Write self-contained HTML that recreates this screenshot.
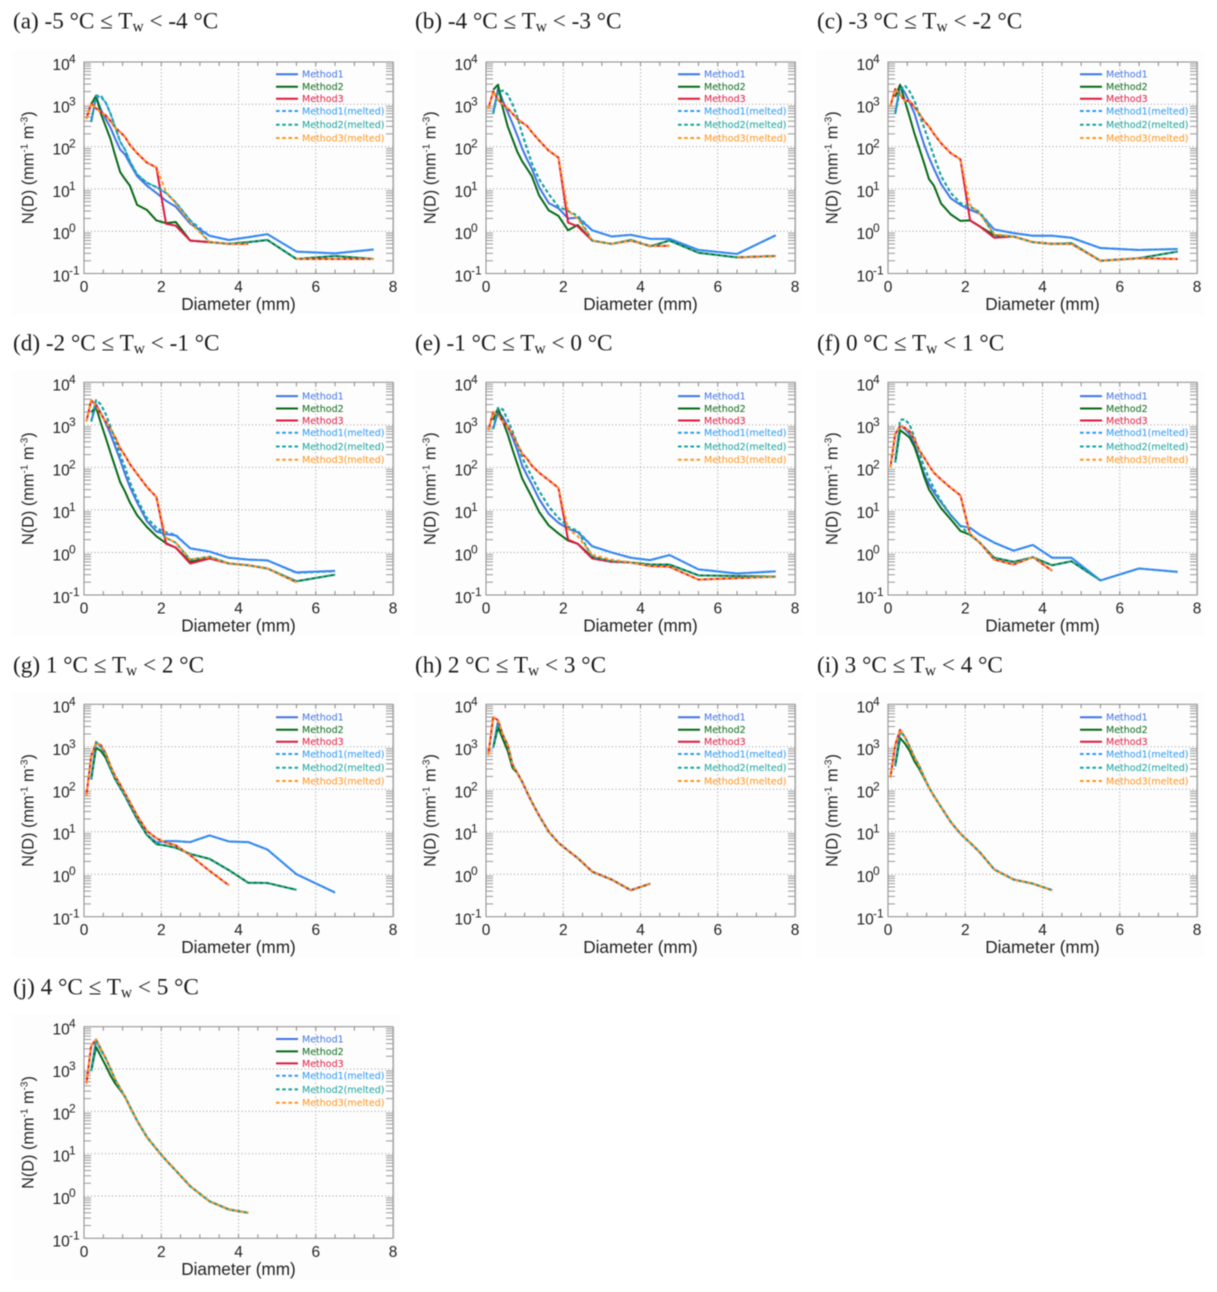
<!DOCTYPE html>
<html lang="en">
<head>
<meta charset="utf-8">
<title>Drop size distributions by wet-bulb temperature</title>
<style>
html,body{margin:0;padding:0;background:#fff;}
#figure{display:block;width:1217px;height:1292px;filter:blur(0.42px);}
.panel-title{font-family:"Liberation Serif",serif;font-size:23.2px;fill:#1a1a1a;}
.tick-label{font-family:"Liberation Sans",sans-serif;font-size:15.5px;fill:#222;}
.tick-exp{font-family:"Liberation Sans",sans-serif;font-size:12px;fill:#222;}
.axis-title{font-family:"Liberation Sans",sans-serif;font-size:17.2px;fill:#222;}
.y-title{font-family:"Liberation Sans",sans-serif;font-size:16.3px;fill:#222;}
.axis-exp{font-family:"Liberation Sans",sans-serif;font-size:10px;fill:#222;}
.legend-text{font-family:"DejaVu Sans",sans-serif;font-size:9.5px;}
</style>
</head>
<body>
<svg id="figure" xmlns="http://www.w3.org/2000/svg" width="1217" height="1292" viewBox="0 0 1217 1292">
<rect x="0" y="0" width="1217" height="1292" fill="#ffffff"/>
<text class="panel-title" x="13" y="28.5">(a) -5 °C ≤ T<tspan font-size="15.5" dy="3">w</tspan><tspan dy="-3"> &lt; -4 °C</tspan></text>
<text class="panel-title" x="415" y="28.5">(b) -4 °C ≤ T<tspan font-size="15.5" dy="3">w</tspan><tspan dy="-3"> &lt; -3 °C</tspan></text>
<text class="panel-title" x="817" y="28.5">(c) -3 °C ≤ T<tspan font-size="15.5" dy="3">w</tspan><tspan dy="-3"> &lt; -2 °C</tspan></text>
<text class="panel-title" x="13" y="350.5">(d) -2 °C ≤ T<tspan font-size="15.5" dy="3">w</tspan><tspan dy="-3"> &lt; -1 °C</tspan></text>
<text class="panel-title" x="415" y="350.5">(e) -1 °C ≤ T<tspan font-size="15.5" dy="3">w</tspan><tspan dy="-3"> &lt; 0 °C</tspan></text>
<text class="panel-title" x="817" y="350.5">(f) 0 °C ≤ T<tspan font-size="15.5" dy="3">w</tspan><tspan dy="-3"> &lt; 1 °C</tspan></text>
<text class="panel-title" x="13" y="672.5">(g) 1 °C ≤ T<tspan font-size="15.5" dy="3">w</tspan><tspan dy="-3"> &lt; 2 °C</tspan></text>
<text class="panel-title" x="415" y="672.5">(h) 2 °C ≤ T<tspan font-size="15.5" dy="3">w</tspan><tspan dy="-3"> &lt; 3 °C</tspan></text>
<text class="panel-title" x="817" y="672.5">(i) 3 °C ≤ T<tspan font-size="15.5" dy="3">w</tspan><tspan dy="-3"> &lt; 4 °C</tspan></text>
<text class="panel-title" x="13" y="994.5">(j) 4 °C ≤ T<tspan font-size="15.5" dy="3">w</tspan><tspan dy="-3"> &lt; 5 °C</tspan></text>
</svg>
<script>
const diameters = [0.062,0.187,0.312,0.437,0.562,0.687,0.812,0.937,1.062,1.187,1.375,1.625,1.875,2.125,2.375,2.75,3.25,3.75,4.25,4.75,5.5,6.5,7.5];
const xTickLabels = [0,2,4,6,8];
const yTickExponents = [-1,0,1,2,3,4];
const seriesNames = ["Method1","Method2","Method3","Method1(melted)","Method2(melted)","Method3(melted)"];

const aMethod1 = [null,380,1500,750,450,280,150,85,65,40,20,12,8,5.2,3.8,1.5,0.78,0.62,0.72,0.85,0.33,0.3,0.37];
const aMethod2 = [null,1000,1600,600,300,150,60,25,17,12,4.2,3.2,1.8,1.55,1.65,0.6,0.55,0.5,0.55,0.62,0.22,0.26,0.22];
const aMethod3 = [450,1050,800,650,550,400,280,220,170,110,70,42,32,1.5,1.35,0.6,0.55,0.5,0.5,null,0.22,0.22,0.22];
const aMethod1m = [null,400,1500,1500,1100,600,280,130,85,45,22,14,11,8,4.8,1.8,0.78,0.62,0.72,0.85,0.33,0.3,0.37];
const aMethod2m = [null,400,1600,1600,1100,600,280,130,85,45,22,14,11,8,4.8,1.8,0.55,0.5,0.55,0.62,0.22,0.26,0.22];
const aMethod3m = [450,1050,800,650,550,400,280,220,170,110,70,42,32,8.5,4.5,1.6,0.55,0.5,0.5,null,0.22,0.22,0.22];

const bMethod1 = [null,600,2400,1200,650,350,180,90,50,30,11,4.6,3.5,2,2.1,1.05,0.75,0.82,0.66,0.66,0.36,0.29,0.8];
const bMethod2 = [null,2200,2900,800,300,150,75,45,30,20,7,3.1,2.3,1.05,1.4,0.6,0.5,0.62,0.44,0.6,0.31,0.24,0.26];
const bMethod3 = [800,2000,1300,1000,800,600,450,370,310,220,140,80,55,1.6,1.3,0.6,0.5,0.6,0.45,0.45,null,0.24,0.26];
const bMethod1m = [null,600,2000,2100,1700,1000,500,200,90,40,17,7.5,3.8,3,2.3,1.05,0.75,0.82,0.66,0.66,0.36,0.29,0.8];
const bMethod2m = [null,600,2000,2100,1700,1000,500,200,90,40,17,7.5,3.8,3,2.3,0.6,0.5,0.62,0.44,0.6,0.31,0.24,0.26];
const bMethod3m = [800,2000,1300,1000,800,600,450,370,310,220,140,80,55,3,2,0.6,0.5,0.6,0.45,0.45,null,0.24,0.26];

const cMethod1 = [null,600,2800,1900,1100,600,250,110,55,30,13,6,4.2,3.2,2.6,1.1,0.9,0.78,0.78,0.7,0.4,0.36,0.38];
const cMethod2 = [null,1500,2900,1200,500,200,90,40,17,12,4.5,2.5,1.75,1.8,1.3,0.8,0.75,0.55,0.5,0.52,0.2,0.23,0.33];
const cMethod3 = [900,2300,1700,1200,1200,850,600,400,300,200,120,70,50,1.8,1.3,0.7,0.75,0.55,0.5,0.5,0.2,0.23,0.22];
const cMethod1m = [null,600,2200,2800,2000,1200,550,280,130,60,20,8,4.6,3.8,2.8,1.1,0.9,0.78,0.78,0.7,0.4,0.36,0.38];
const cMethod2m = [null,600,2200,2800,2000,1200,550,280,130,60,20,8,4.6,3.8,2.8,0.8,0.75,0.55,0.5,0.52,0.2,0.23,0.33];
const cMethod3m = [900,2300,1700,1200,1200,850,600,400,300,200,120,70,50,4.2,2.6,0.85,0.75,0.55,0.5,0.5,0.2,0.23,0.22];

const dMethod1 = [null,1200,3000,1900,1100,600,300,150,70,35,15,5.5,3.1,2.7,2.5,1.25,1.05,0.75,0.68,0.65,0.34,0.37,null];
const dMethod2 = [null,2000,2600,1100,500,220,100,45,27,15,7.5,4,2.4,1.65,1.3,0.6,0.78,0.55,0.5,0.42,0.21,0.3,null];
const dMethod3 = [1200,3800,2800,1800,1200,800,500,280,190,120,70,35,20,1.6,1.3,0.55,0.72,0.55,0.5,0.42,0.2,null,null];
const dMethod1m = [null,1200,3800,3000,1800,900,420,200,100,45,18,6.5,3.8,3,2.6,1.25,1.05,0.75,0.68,0.65,0.33,0.36,null];
const dMethod2m = [null,1200,3800,3000,1800,900,420,200,100,45,18,6.5,3.8,2.2,1.7,0.68,0.8,0.55,0.5,0.42,0.21,0.3,null];
const dMethod3m = [1200,3800,2800,1800,1200,800,500,280,190,120,70,35,20,2.2,1.7,0.68,0.78,0.55,0.5,0.42,0.2,null,null];

const eMethod1 = [null,800,2000,1500,900,500,250,110,65,40,18,8,5,3.6,3,1.4,1,0.75,0.66,0.87,0.4,0.32,0.36];
const eMethod2 = [null,1300,2500,1200,600,260,120,55,33,20,9,4.3,2.8,1.9,1.6,0.78,0.62,0.58,0.52,0.52,0.29,0.28,0.27];
const eMethod3 = [750,2000,1700,1200,900,600,350,210,160,110,75,50,33,2,1.6,0.72,0.6,0.58,0.48,0.46,0.23,0.25,0.27];
const eMethod1m = [null,800,2500,2300,1300,700,350,170,100,60,28,12,6.5,4,3.2,1.4,1,0.75,0.66,0.87,0.4,0.32,0.36];
const eMethod2m = [null,800,2500,2300,1300,700,350,170,100,60,28,12,6.5,4,3.2,0.78,0.62,0.58,0.52,0.52,0.29,0.28,0.27];
const eMethod3m = [750,2000,1700,1200,900,600,350,210,160,110,75,50,33,3.6,2.4,0.88,0.68,0.58,0.48,0.46,0.23,0.25,0.27];

const fMethod1 = [null,130,950,800,600,350,150,70,40,26,15,7.5,4.2,3.8,2.6,1.7,1.1,1.5,0.75,0.75,0.22,0.42,0.35];
const fMethod2 = [null,130,750,620,500,300,140,60,30,20,11,6,3.2,2.6,1.7,0.75,0.6,0.77,0.5,0.62,0.22,null,null];
const fMethod3 = [100,600,950,850,700,450,250,170,110,75,52,33,22,2.7,1.7,0.68,0.52,0.78,0.37,null,null,null,null];
const fMethod1m = [null,130,1300,1350,1000,500,220,100,55,32,16,7.5,4.2,3.8,2.6,1.7,1.1,1.5,0.75,0.75,0.22,0.42,0.35];
const fMethod2m = [null,130,1300,1350,1000,500,220,100,55,32,16,7.5,4.2,2.6,1.7,0.75,0.6,0.77,0.5,0.62,0.22,null,null];
const fMethod3m = [100,600,950,850,700,450,250,170,110,75,52,33,22,2.7,1.7,0.68,0.52,0.78,0.37,null,null,null,null];

const gMethod1 = [null,170,1300,1000,650,320,170,110,70,42,20,8.5,5.6,6,6,5.7,8.2,5.9,5.7,3.8,1,0.37,null];
const gMethod2 = [null,170,950,800,550,300,170,110,70,42,20,8.5,5.1,4.7,4.2,3,2.3,1.25,0.63,0.62,0.43,null,null];
const gMethod3 = [70,600,1250,1100,700,350,200,130,80,50,24,10.5,7,5.5,4.8,2.8,1.2,0.55,null,null,null,null,null];
const gMethod1m = [null,170,1300,1000,650,320,170,110,70,42,20,8.5,5.6,6,6,5.7,8.2,5.9,5.7,3.8,1,0.37,null];
const gMethod2m = [null,170,1300,1000,650,320,170,110,70,42,20,8.5,5.1,4.7,4.2,3,2.3,1.25,0.63,0.62,0.43,null,null];
const gMethod3m = [70,600,1250,1100,700,350,200,130,80,50,24,10.5,7,5.5,4.8,2.8,1.2,0.55,null,null,null,null,null];

const hMethod1 = [null,950,4000,1900,1100,380,240,150,85,50,24,10,5.5,3.6,2.4,1.15,0.75,0.42,0.6,null,null,null,null];
const hMethod2 = [null,950,2900,1500,800,320,240,150,85,50,24,10,5.5,3.6,2.4,1.15,0.75,0.42,0.6,null,null,null,null];
const hMethod3 = [650,5000,4200,1900,1100,380,240,150,85,50,24,10,5.5,3.6,2.4,1.15,0.75,0.42,0.6,null,null,null,null];
const hMethod1m = [null,950,4000,1900,1100,380,240,150,85,50,24,10,5.5,3.6,2.4,1.15,0.75,0.42,0.6,null,null,null,null];
const hMethod2m = [null,950,4000,1900,1100,380,240,150,85,50,24,10,5.5,3.6,2.4,1.15,0.75,0.42,0.6,null,null,null,null];
const hMethod3m = [650,5000,4200,1900,1100,380,240,150,85,50,24,10,5.5,3.6,2.4,1.15,0.75,0.42,0.6,null,null,null,null];

const iMethod1 = [null,350,2300,1700,1000,550,350,190,110,70,38,17,9,5.5,3.3,1.3,0.75,0.6,0.42,null,null,null,null];
const iMethod2 = [null,350,1600,1200,800,450,300,180,110,70,38,17,9,5.5,3.3,1.3,0.75,0.6,0.42,null,null,null,null];
const iMethod3 = [190,1100,2500,1700,1000,550,350,190,110,70,38,17,9,5.5,3.3,1.3,0.75,0.6,0.42,null,null,null,null];
const iMethod1m = [null,350,2300,1700,1000,550,350,190,110,70,38,17,9,5.5,3.3,1.3,0.75,0.6,0.42,null,null,null,null];
const iMethod2m = [null,350,2300,1700,1000,550,350,190,110,70,38,17,9,5.5,3.3,1.3,0.75,0.6,0.42,null,null,null,null];
const iMethod3m = [190,1100,2500,1700,1000,550,350,190,110,70,38,17,9,5.5,3.3,1.3,0.75,0.6,0.42,null,null,null,null];

const jMethod1 = [null,900,4800,2800,1800,1000,550,350,220,130,60,25,13,7,4,1.7,0.75,0.48,0.4,null,null,null,null];
const jMethod2 = [null,900,3300,2000,1200,700,450,320,220,130,60,25,13,7,4,1.7,0.75,0.48,0.4,null,null,null,null];
const jMethod3 = [450,3500,5000,3000,1800,1000,550,350,220,130,60,25,13,7,4,1.7,0.75,0.48,0.4,null,null,null,null];
const jMethod1m = [null,900,4800,2800,1800,1000,550,350,220,130,60,25,13,7,4,1.7,0.75,0.48,0.4,null,null,null,null];
const jMethod2m = [null,900,4800,2800,1800,1000,550,350,220,130,60,25,13,7,4,1.7,0.75,0.48,0.4,null,null,null,null];
const jMethod3m = [450,3500,5000,3000,1800,1000,550,350,220,130,60,25,13,7,4,1.7,0.75,0.48,0.4,null,null,null,null];

const panelData = {
  a:[aMethod1,aMethod2,aMethod3,aMethod1m,aMethod2m,aMethod3m],
  b:[bMethod1,bMethod2,bMethod3,bMethod1m,bMethod2m,bMethod3m],
  c:[cMethod1,cMethod2,cMethod3,cMethod1m,cMethod2m,cMethod3m],
  d:[dMethod1,dMethod2,dMethod3,dMethod1m,dMethod2m,dMethod3m],
  e:[eMethod1,eMethod2,eMethod3,eMethod1m,eMethod2m,eMethod3m],
  f:[fMethod1,fMethod2,fMethod3,fMethod1m,fMethod2m,fMethod3m],
  g:[gMethod1,gMethod2,gMethod3,gMethod1m,gMethod2m,gMethod3m],
  h:[hMethod1,hMethod2,hMethod3,hMethod1m,hMethod2m,hMethod3m],
  i:[iMethod1,iMethod2,iMethod3,iMethod1m,iMethod2m,iMethod3m],
  j:[jMethod1,jMethod2,jMethod3,jMethod1m,jMethod2m,jMethod3m]
};

/* layout (styling only) */
const svgNS = "http://www.w3.org/2000/svg";
const figure = document.getElementById("figure");
const colLeft = [84,486,888];
const rowTop = [62,382.3,704.3,1026.7];
const rowBottom = [273.5,595,916.7,1238.3];
const plotWidth = 309;
const seriesColors = ["#3f74e6","#066a16","#e0183f","#2a98f5","#15a39a","#ff9418"];
const legendOffsets = [12.3,24.7,36.7,49,62.7,76];
const legendRowShift = [0,1.5,0.7,0];

function make(parent, tag, attrs){
  const el = document.createElementNS(svgNS, tag);
  for (const k in attrs) el.setAttribute(k, attrs[k]);
  parent.appendChild(el);
  return el;
}

Object.keys(panelData).forEach(function(id, index){
  const col = index % 3;
  const row = Math.floor(index / 3);
  const left = colLeft[col];
  const top = rowTop[row];
  const bottom = rowBottom[row];
  const right = left + plotWidth;
  const xScale = function(d){ return left + d / 8 * plotWidth; };
  const yScale = function(v){ return bottom - (Math.log10(v) + 1) / 5 * (bottom - top); };

  const g = make(figure, "g", {});
  
  

  const bg = make(g, "rect", {x:left-72, y:top-12, width:plotWidth+79, height:bottom-top+53, fill:"#fdfdfd"});
  
  

  /* grid */
  yTickExponents.forEach(function(e){
    if (e === -1 || e === 4) return;
    const gl = make(g, "line", {x1:left, x2:right, y1:yScale(Math.pow(10,e)), y2:yScale(Math.pow(10,e)), stroke:"#999", "stroke-width":1, "stroke-dasharray":"1 2.5"});
    
    
  });
  xTickLabels.forEach(function(t){
    if (t === 0 || t === 8) return;
    const gl = make(g, "line", {x1:xScale(t), x2:xScale(t), y1:top, y2:bottom, stroke:"#999", "stroke-width":1, "stroke-dasharray":"1 2.5"});
    
    
  });

  /* minor and major ticks */
  for (let e = -1; e < 4; e++) {
    for (let m = 2; m <= 9; m++) {
      const y = yScale(m * Math.pow(10, e));
      const tl = make(g, "line", {x1:left, x2:left+7, y1:y, y2:y, stroke:"#999", "stroke-width":1});
      
      
      const tr = make(g, "line", {x1:right-7, x2:right, y1:y, y2:y, stroke:"#999", "stroke-width":1});
      
      
    }
  }
  for (let d = 0.5; d < 8; d += 0.5) {
    const x = xScale(d);
    const tb = make(g, "line", {x1:x, x2:x, y1:bottom-4, y2:bottom, stroke:"#888", "stroke-width":1});
    
    
    const tt = make(g, "line", {x1:x, x2:x, y1:top, y2:top+4, stroke:"#888", "stroke-width":1});
    
    
  }

  /* frame */
  const frame = make(g, "rect", {x:left, y:top, width:plotWidth, height:bottom-top, fill:"none", stroke:"#8c8c8c", "stroke-width":1});
  
  
  const edge = make(g, "line", {x1:right+0.7, x2:right+0.7, y1:top, y2:bottom, stroke:"#c4c4c4", "stroke-width":1});
  
  

  /* series */
  panelData[id].forEach(function(values, s){
    let d = "";
    let pen = false;
    values.forEach(function(v, i){
      if (v === null) { pen = false; return; }
      d += (pen ? "L" : "M") + xScale(diameters[i]).toFixed(2) + " " + yScale(v).toFixed(2);
      pen = true;
    });
    const attrs = {d:d, fill:"none", stroke:seriesColors[s], "stroke-width":2, "stroke-linejoin":"round"};
    if (s >= 3) attrs["stroke-dasharray"] = "3.6 2.6";
    const path = make(g, "path", attrs);
    
    
  });

  /* legend */
  seriesNames.forEach(function(name, s){
    const y = top + legendOffsets[s] + legendRowShift[row];
    const attrs = {x1:left+192, x2:left+214, y1:y, y2:y, stroke:seriesColors[s], "stroke-width":2};
    if (s >= 3) attrs["stroke-dasharray"] = "3.6 2.6";
    const sw = make(g, "line", attrs);
    
    
    const t = make(g, "text", {x:left+218, y:y+3.4, fill:seriesColors[s], "class":"legend-text"});
    t.textContent = name;
    
    
  });

  /* x tick labels */
  xTickLabels.forEach(function(t){
    const lab = make(g, "text", {x:xScale(t), y:bottom+18.5, "text-anchor":"middle", "class":"tick-label"});
    lab.textContent = String(t);
    
    
  });

  /* y tick labels */
  yTickExponents.forEach(function(e){
    const y = yScale(Math.pow(10, e));
    const base = make(g, "text", {x:left-31.5, y:y+8, "class":"tick-label"});
    base.textContent = "10";
    
    
    const sup = make(g, "text", {x:left-15, y:y+1, "class":"tick-exp"});
    sup.textContent = String(e);
    
    
  });

  /* axis titles */
  const xt = make(g, "text", {x:left+plotWidth/2, y:bottom+36.5, "text-anchor":"middle", "class":"axis-title"});
  xt.textContent = "Diameter (mm)";
  
  

  const yMid = (top + bottom) / 2;
  const yt = make(g, "text", {"text-anchor":"middle", "class":"y-title", transform:"translate(" + (left-50.5) + " " + yMid + ") rotate(-90)"});
  
  
  const parts = [["N(D) (mm",0,""],["-1",-6,"axis-exp"],[" m",6,""],["-3",-6,"axis-exp"],[")",6,""]];
  parts.forEach(function(p){
    const ts = make(yt, "tspan", {dy:p[1]});
    if (p[2]) ts.setAttribute("class", p[2]);
    ts.textContent = p[0];
  });
});
</script>
</body>
</html>
